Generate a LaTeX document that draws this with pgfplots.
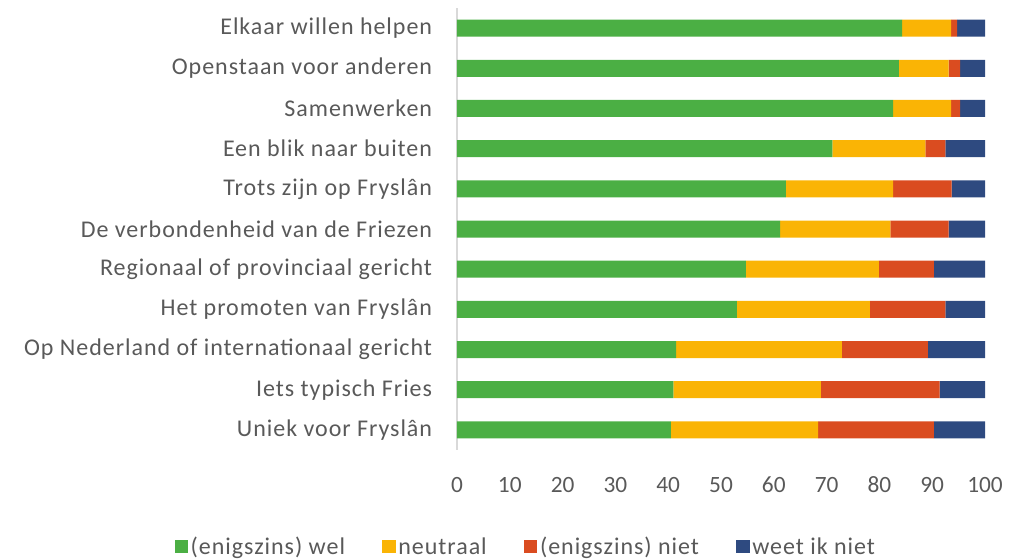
\documentclass[border=0pt]{standalone}
\usepackage{fontspec}
\setmainfont{Carlito}
\newfontfamily\lblfont[LetterSpace=4]{Carlito}
\usepackage{pgfplots}
\pgfplotsset{compat=1.18}
\definecolor{cwel}{RGB}{75,175,68}
\definecolor{cneu}{RGB}{250,180,5}
\definecolor{cniet}{RGB}{218,76,32}
\definecolor{cweet}{RGB}{46,74,128}
\definecolor{txt}{RGB}{89,89,89}
\definecolor{axl}{RGB}{217,217,217}

% index 0 = top row
\pgfplotstableread{
idx wel neutraal niet weet
0  84.3  9.3  1.1  5.3
1  83.7  9.4  2.2  4.7
2  82.6 11.0  1.7  4.7
3  71.1 17.6  3.8  7.5
4  62.3 20.3 11.1  6.3
5  61.2 20.9 11.0  6.9
6  54.7 25.2 10.4  9.7
7  53.0 25.2 14.3  7.5
8  41.5 31.4 16.3 10.8
9  41.0 27.9 22.5  8.6
10 40.5 27.9 21.9  9.7
}\data

\begin{document}
\begin{tikzpicture}
\useasboundingbox (0,0) rectangle (771.75pt,420pt);
\begin{axis}[
  at={(342.75pt,82.5pt)}, anchor=south west,
  scale only axis,
  width=396pt, height=331.5pt,
  xbar stacked, bar width=12.75pt,
  xmin=0, xmax=100, ymin=-0.5, ymax=10.5,
  y dir=reverse,
  xtick={0,10,...,100},
  ytick={0,...,10},
  yticklabels={Elkaar willen helpen, Openstaan voor anderen, Samenwerken,
    Een blik naar buiten, Trots zijn op Fryslân, De verbondenheid van de Friezen,
    Regionaal of provinciaal gericht, Het promoten van Fryslân,
    Op Nederland of internationaal gericht, Iets typisch Fries, Uniek voor Fryslân},
  axis y line*=left, axis x line*=bottom,
  y axis line style={draw=axl, line width=1.2pt},
  x axis line style={draw=none},
  major tick length=0pt,
  tick style={draw=none},
  /pgf/number format/assume math mode=true,
  tick label style={font=\fontsize{17.5}{20}\selectfont, text=txt, inner sep=0pt},
  yticklabel style={font=\lblfont\fontsize{18}{20}\selectfont, xshift=-18.5pt},
  xticklabel style={yshift=-20pt},
  legend columns=4,
  legend style={at={(0.131,-0.219)}, anchor=center, draw=none,
    font=\lblfont\fontsize{18}{20}\selectfont, text=txt,
    /tikz/every even column/.append style={column sep=26pt}},
  legend image code/.code={\fill[#1] (0pt,-5pt) rectangle (10pt,5pt);},
]
\addplot[fill=cwel, draw=none] table[x=wel, y=idx] {\data};
\addlegendentry{(enigszins) wel}
\addplot[fill=cneu, draw=none] table[x=neutraal, y=idx] {\data};
\addlegendentry{neutraal}
\addplot[fill=cniet, draw=none] table[x=niet, y=idx] {\data};
\addlegendentry{(enigszins) niet}
\addplot[fill=cweet, draw=none] table[x=weet, y=idx] {\data};
\addlegendentry{weet ik niet}
\end{axis}
\end{tikzpicture}
\end{document}
